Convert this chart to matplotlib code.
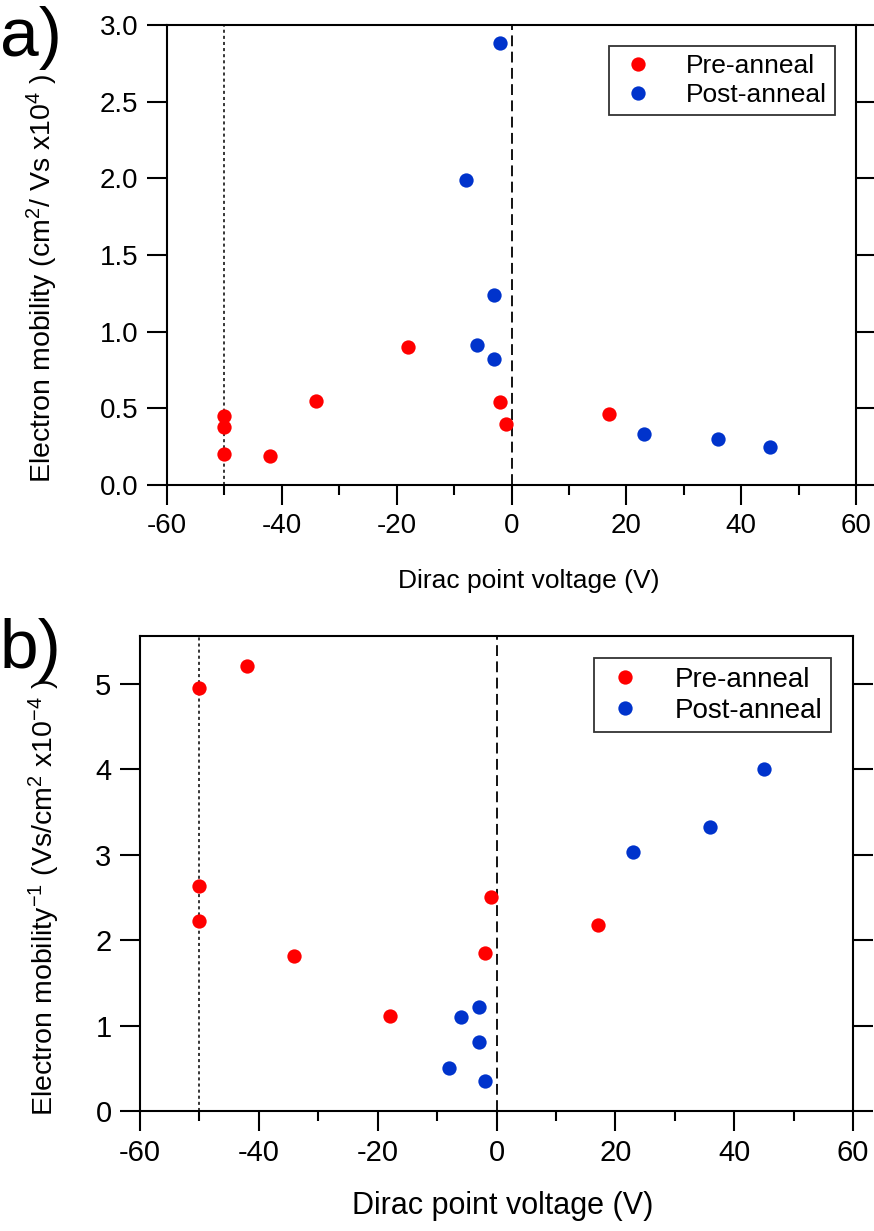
import numpy as np
import matplotlib
matplotlib.use("Agg")
import matplotlib.pyplot as plt
from matplotlib.ticker import MultipleLocator, FormatStrFormatter

plt.rcParams['font.family'] = ['Liberation Sans', 'DejaVu Sans']
plt.rcParams['mathtext.default'] = 'regular'
plt.rcParams['axes.unicode_minus'] = False

# panel a) electron mobility vs Dirac point voltage
pre_v = [-50, -50, -50, -42, -34, -18, -2, -1, 17]
pre_mu = [0.45, 0.38, 0.20, 0.19, 0.55, 0.90, 0.54, 0.40, 0.46]
post_v = [-2, -8, -3, -6, -3, 23, 36, 45]
post_mu = [2.88, 1.99, 1.24, 0.91, 0.82, 0.33, 0.30, 0.25]

# panel b) inverse mobility
pre_inv = [2.22, 2.63, 4.95, 5.21, 1.82, 1.11, 1.85, 2.50, 2.18]
post_inv = [0.35, 0.50, 0.81, 1.10, 1.22, 3.03, 3.33, 4.00]

RED = '#ff0000'
BLUE = '#0033cc'
MS = 10.3

fig = plt.figure(figsize=(8.74, 12.31), dpi=100)
ax1 = fig.add_axes([167/874, 1-485/1231, (856-167)/874, (485-25)/1231])
ax2 = fig.add_axes([140/874, 1-1111/1231, (853-140)/874, (1111-636)/1231])


def style(ax, fs):
    for s in ax.spines.values():
        s.set_linewidth(1.5)
    ax.tick_params(which='major', direction='out', length=14.5, width=1.5,
                   labelsize=fs, right=True, pad=6)
    ax.tick_params(which='minor', direction='out', length=7, width=1.5)
    ax.tick_params(axis='y', which='minor', left=False, right=False)
    ax.xaxis.set_major_locator(MultipleLocator(20))
    ax.xaxis.set_minor_locator(MultipleLocator(10))
    ax.set_xlim(-60, 60)
    ax.axvline(-50, color='black', lw=1.1, ls=(0, (2, 2)), zorder=1)
    ax.axvline(0, color='black', lw=1.3, ls=(0, (6, 3)), zorder=1)


# top panel
style(ax1, 20)
ax1.plot(pre_v, pre_mu, 'o', color=RED, ms=MS, mew=0, label='Pre-anneal', zorder=3)
ax1.plot(post_v, post_mu, 'o', color=BLUE, ms=MS, mew=0, label='Post-anneal', zorder=3)
ax1.set_ylim(0, 3)
ax1.yaxis.set_major_locator(MultipleLocator(0.5))
ax1.yaxis.set_major_formatter(FormatStrFormatter('%.1f'))
ax1.set_xlabel('Dirac point voltage (V)', fontsize=19)
ax1.xaxis.set_label_coords(0.525, -0.183)
ax1.set_ylabel('Electron mobility (cm$^{2}$/ Vs x10$^{4}$ )', fontsize=20.5)
ax1.yaxis.set_label_coords(-0.155, 0.45)
leg1 = ax1.legend(loc='upper right', fontsize=19, frameon=True, fancybox=False,
                  edgecolor='black', borderaxespad=0.8, handletextpad=1.0,
                  borderpad=0.3, labelspacing=0.2, handlelength=1.6)
leg1.get_frame().set_linewidth(1.3)

# bottom panel
style(ax2, 21)
ax2.plot(pre_v, pre_inv, 'o', color=RED, ms=MS, mew=0, label='Pre-anneal', zorder=3)
ax2.plot(post_v, post_inv, 'o', color=BLUE, ms=MS, mew=0, label='Post-anneal', zorder=3)
ax2.set_ylim(0, 5.56)
ax2.yaxis.set_major_locator(MultipleLocator(1))
ax2.set_xlabel('Dirac point voltage (V)', fontsize=22)
ax2.xaxis.set_label_coords(0.508, -0.168)
ax2.set_ylabel('Electron mobility$^{-1}$ (Vs/cm$^{2}$ x10$^{-4}$ )', fontsize=20.5)
ax2.yaxis.set_label_coords(-0.110, 0.45)
leg2 = ax2.legend(loc='upper right', fontsize=20, frameon=True, fancybox=False,
                  edgecolor='black', borderaxespad=0.8, handletextpad=1.0,
                  borderpad=0.3, labelspacing=0.2, handlelength=1.6)
leg2.get_frame().set_linewidth(1.3)

fig.text(0.0, 1-38/1231, 'a)', fontsize=50, va='center', ha='left')
fig.text(0.0, 1-650/1231, 'b)', fontsize=50, va='center', ha='left')

fig.savefig('out.png', dpi=100)
